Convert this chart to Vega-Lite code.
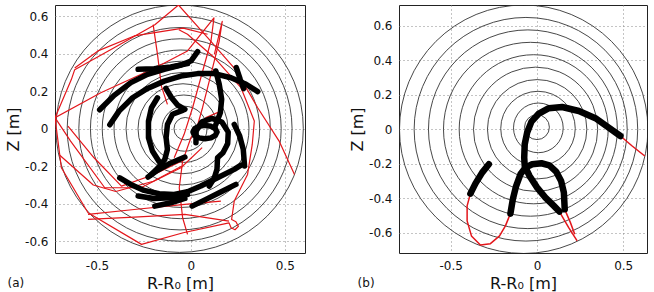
{
  "$schema": "https://vega.github.io/schema/vega-lite/v6.json",
  "padding": {"left": 5, "top": 4, "right": 0, "bottom": 0},
  "spacing": 43,
  "resolve": {"scale": {"x": "independent", "y": "independent", "size": "independent"}},
  "config": {
    "font": "DejaVu Sans",
    "view": {"stroke": "#222", "strokeWidth": 1},
    "axis": {
      "labelFont": "DejaVu Sans", "labelFontSize": 12, "labelColor": "#111",
      "titleFont": "DejaVu Sans", "titleFontSize": 16, "titleFontWeight": "normal", "titleColor": "#111",
      "grid": true, "gridDash": [1, 3], "gridColor": "#888", "gridWidth": 1,
      "ticks": false, "domain": false, "labelPadding": 7, "labelFlush": false
    },
    "axisX": {"titlePadding": 4},
    "axisY": {"titlePadding": 3},
    "title": {"font": "DejaVu Sans", "fontSize": 12, "fontWeight": "normal", "color": "#111"}
  },
  "datasets": {
    "a_circ": [
      {"cx": -0.060, "cy": 0, "r": 0.66}, {"cx": -0.060, "cy": 0, "r": 0.60},
      {"cx": -0.058, "cy": 0, "r": 0.54}, {"cx": -0.056, "cy": 0, "r": 0.48},
      {"cx": -0.053, "cy": 0, "r": 0.42}, {"cx": -0.050, "cy": 0, "r": 0.36},
      {"cx": -0.046, "cy": 0, "r": 0.30}, {"cx": -0.042, "cy": 0, "r": 0.24},
      {"cx": -0.038, "cy": 0, "r": 0.18}, {"cx": -0.034, "cy": 0, "r": 0.12},
      {"cx": -0.030, "cy": 0, "r": 0.06}
    ],
    "a_red": [
      {"g": "p1", "x": 0.552, "y": -0.244}, {"g": "p1", "x": 0.470, "y": -0.066}, {"g": "p1", "x": 0.356, "y": 0.112},
      {"g": "p1", "x": 0.238, "y": 0.315}, {"g": "p1", "x": 0.089, "y": 0.486}, {"g": "p1", "x": -0.066, "y": 0.660},
      {"g": "p1", "x": -0.192, "y": 0.555}, {"g": "p1", "x": -0.409, "y": 0.432}, {"g": "p1", "x": -0.619, "y": 0.315},
      {"g": "p1", "x": -0.637, "y": 0.262}, {"g": "p1", "x": -0.724, "y": 0.059}, {"g": "p1", "x": -0.690, "y": -0.208},
      {"g": "p1", "x": -0.548, "y": -0.448}, {"g": "p1", "x": -0.263, "y": -0.617}, {"g": "p1", "x": -0.041, "y": -0.555},
      {"g": "p1", "x": 0.203, "y": -0.502}, {"g": "p1", "x": 0.214, "y": -0.528}, {"g": "p1", "x": 0.235, "y": -0.539},
      {"g": "p1", "x": 0.253, "y": -0.521}, {"g": "p1", "x": 0.240, "y": -0.496}, {"g": "p1", "x": 0.217, "y": -0.484},
      {"g": "p1", "x": 0.231, "y": -0.386}, {"g": "p1", "x": 0.302, "y": -0.244}, {"g": "p1", "x": 0.327, "y": -0.084},
      {"g": "p1", "x": 0.338, "y": 0.041}, {"g": "p1", "x": 0.267, "y": 0.219}, {"g": "p1", "x": 0.125, "y": 0.379},
      {"g": "p1", "x": -0.018, "y": 0.504}, {"g": "p1", "x": -0.064, "y": 0.528},

      {"g": "p3", "x": -0.724, "y": 0.059}, {"g": "p3", "x": -0.480, "y": 0.192}, {"g": "p3", "x": -0.192, "y": 0.324},
      {"g": "p3", "x": -0.018, "y": 0.415}, {"g": "p3", "x": 0.123, "y": 0.591}, {"g": "p3", "x": 0.107, "y": 0.468},
      {"g": "p3", "x": 0.053, "y": 0.272}, {"g": "p3", "x": 0.009, "y": 0.112}, {"g": "p3", "x": -0.036, "y": -0.030},
      {"g": "p3", "x": -0.089, "y": -0.155},

      {"g": "p4", "x": -0.201, "y": 0.555}, {"g": "p4", "x": -0.178, "y": 0.397}, {"g": "p4", "x": -0.157, "y": 0.226},
      {"g": "p4", "x": -0.125, "y": 0.130},

      {"g": "p5", "x": 0.125, "y": 0.397}, {"g": "p5", "x": 0.167, "y": 0.573}, {"g": "p5", "x": 0.151, "y": 0.468},
      {"g": "p5", "x": 0.107, "y": 0.290}, {"g": "p5", "x": 0.062, "y": 0.112}, {"g": "p5", "x": 0.027, "y": -0.012},

      {"g": "p6", "x": -0.655, "y": 0.014}, {"g": "p6", "x": -0.516, "y": -0.155}, {"g": "p6", "x": -0.370, "y": -0.306},
      {"g": "p6", "x": -0.196, "y": -0.244}, {"g": "p6", "x": -0.032, "y": -0.164},

      {"g": "p7", "x": -0.548, "y": -0.457}, {"g": "p7", "x": -0.302, "y": -0.431}, {"g": "p7", "x": -0.032, "y": -0.404},
      {"g": "p7", "x": 0.160, "y": -0.386},

      {"g": "p8", "x": -0.548, "y": -0.484}, {"g": "p8", "x": -0.302, "y": -0.472}, {"g": "p8", "x": -0.032, "y": -0.457},
      {"g": "p8", "x": 0.203, "y": -0.493},

      {"g": "p9", "x": -0.724, "y": 0.059}, {"g": "p9", "x": -0.641, "y": -0.066}, {"g": "p9", "x": -0.459, "y": -0.315},
      {"g": "p9", "x": -0.267, "y": -0.315}, {"g": "p9", "x": -0.053, "y": -0.208}, {"g": "p9", "x": 0.060, "y": -0.101},

      {"g": "p10", "x": -0.619, "y": 0.324}, {"g": "p10", "x": -0.495, "y": 0.415}, {"g": "p10", "x": -0.302, "y": 0.495},
      {"g": "p10", "x": -0.041, "y": 0.537}, {"g": "p10", "x": 0.089, "y": 0.504},

      {"g": "p11", "x": 0.160, "y": 0.094}, {"g": "p11", "x": 0.080, "y": 0.059}, {"g": "p11", "x": 0.000, "y": -0.048},
      {"g": "p11", "x": -0.044, "y": -0.173}, {"g": "p11", "x": -0.062, "y": -0.315}, {"g": "p11", "x": -0.044, "y": -0.475},
      {"g": "p11", "x": -0.018, "y": -0.564},

      {"g": "p12", "x": -0.700, "y": -0.140}, {"g": "p12", "x": -0.520, "y": -0.300}, {"g": "p12", "x": -0.400, "y": -0.335},
      {"g": "p12", "x": -0.200, "y": -0.280}, {"g": "p12", "x": -0.050, "y": -0.200}
    ],
    "a_black": [
      {"g": "k1", "x": -0.486, "y": 0.101}, {"g": "k1", "x": -0.409, "y": 0.178}, {"g": "k1", "x": -0.320, "y": 0.246},
      {"g": "k1", "x": -0.231, "y": 0.290}, {"g": "k1", "x": -0.142, "y": 0.317}, {"g": "k1", "x": -0.053, "y": 0.340},
      {"g": "k1", "x": 0.000, "y": 0.361}, {"g": "k1", "x": 0.036, "y": 0.411},

      {"g": "k2", "x": -0.432, "y": 0.021}, {"g": "k2", "x": -0.383, "y": 0.094}, {"g": "k2", "x": -0.311, "y": 0.165},
      {"g": "k2", "x": -0.231, "y": 0.215}, {"g": "k2", "x": -0.142, "y": 0.254}, {"g": "k2", "x": -0.053, "y": 0.281},
      {"g": "k2", "x": 0.036, "y": 0.294}, {"g": "k2", "x": 0.125, "y": 0.294}, {"g": "k2", "x": 0.214, "y": 0.272},
      {"g": "k2", "x": 0.294, "y": 0.237}, {"g": "k2", "x": 0.356, "y": 0.198},

      {"g": "k3", "x": -0.281, "y": 0.317}, {"g": "k3", "x": -0.196, "y": 0.320}, {"g": "k3", "x": -0.107, "y": 0.329},
      {"g": "k3", "x": -0.018, "y": 0.347},

      {"g": "k4", "x": -0.178, "y": 0.165}, {"g": "k4", "x": -0.210, "y": 0.112}, {"g": "k4", "x": -0.226, "y": 0.041},
      {"g": "k4", "x": -0.226, "y": -0.048}, {"g": "k4", "x": -0.205, "y": -0.119}, {"g": "k4", "x": -0.169, "y": -0.176},
      {"g": "k4", "x": -0.142, "y": -0.199},

      {"g": "k5", "x": -0.133, "y": 0.215}, {"g": "k5", "x": -0.103, "y": 0.165}, {"g": "k5", "x": -0.071, "y": 0.126},
      {"g": "k5", "x": -0.032, "y": 0.103},

      {"g": "k6", "x": -0.044, "y": 0.098}, {"g": "k6", "x": -0.098, "y": 0.077}, {"g": "k6", "x": -0.125, "y": 0.023},
      {"g": "k6", "x": -0.132, "y": -0.048}, {"g": "k6", "x": -0.125, "y": -0.110}, {"g": "k6", "x": -0.139, "y": -0.164},
      {"g": "k6", "x": -0.174, "y": -0.208}, {"g": "k6", "x": -0.214, "y": -0.247},

      {"g": "k7", "x": 0.133, "y": 0.308}, {"g": "k7", "x": 0.151, "y": 0.237}, {"g": "k7", "x": 0.164, "y": 0.157},
      {"g": "k7", "x": 0.157, "y": 0.085}, {"g": "k7", "x": 0.133, "y": 0.023},

      {"g": "k8", "x": 0.242, "y": 0.326}, {"g": "k8", "x": 0.263, "y": 0.263}, {"g": "k8", "x": 0.281, "y": 0.215},

      {"g": "k9", "x": 0.139, "y": -0.018}, {"g": "k9", "x": 0.130, "y": 0.000}, {"g": "k9", "x": 0.107, "y": 0.013},
      {"g": "k9", "x": 0.075, "y": 0.018}, {"g": "k9", "x": 0.043, "y": 0.013}, {"g": "k9", "x": 0.020, "y": 0.000},
      {"g": "k9", "x": 0.011, "y": -0.018}, {"g": "k9", "x": 0.020, "y": -0.036}, {"g": "k9", "x": 0.043, "y": -0.049},
      {"g": "k9", "x": 0.075, "y": -0.054}, {"g": "k9", "x": 0.107, "y": -0.049}, {"g": "k9", "x": 0.130, "y": -0.036},
      {"g": "k9", "x": 0.139, "y": -0.018},

      {"g": "k10", "x": 0.027, "y": -0.075}, {"g": "k10", "x": 0.028, "y": -0.012}, {"g": "k10", "x": 0.059, "y": 0.037},
      {"g": "k10", "x": 0.112, "y": 0.055}, {"g": "k10", "x": 0.165, "y": 0.036}, {"g": "k10", "x": 0.199, "y": -0.018},
      {"g": "k10", "x": 0.196, "y": -0.080}, {"g": "k10", "x": 0.171, "y": -0.128}, {"g": "k10", "x": 0.142, "y": -0.155},
      {"g": "k10", "x": 0.139, "y": -0.217}, {"g": "k10", "x": 0.125, "y": -0.262}, {"g": "k10", "x": 0.098, "y": -0.306},

      {"g": "k12", "x": 0.231, "y": 0.023}, {"g": "k12", "x": 0.260, "y": -0.039}, {"g": "k12", "x": 0.279, "y": -0.110},
      {"g": "k12", "x": 0.286, "y": -0.199},

      {"g": "k13", "x": -0.379, "y": -0.262}, {"g": "k13", "x": -0.320, "y": -0.297}, {"g": "k13", "x": -0.249, "y": -0.329},
      {"g": "k13", "x": -0.169, "y": -0.347}, {"g": "k13", "x": -0.089, "y": -0.351}, {"g": "k13", "x": -0.018, "y": -0.336},
      {"g": "k13", "x": 0.053, "y": -0.306}, {"g": "k13", "x": 0.142, "y": -0.262}, {"g": "k13", "x": 0.231, "y": -0.217},
      {"g": "k13", "x": 0.267, "y": -0.194},

      {"g": "k14", "x": -0.281, "y": -0.359}, {"g": "k14", "x": -0.196, "y": -0.372}, {"g": "k14", "x": -0.107, "y": -0.368},
      {"g": "k14", "x": -0.018, "y": -0.351},

      {"g": "k15", "x": -0.192, "y": -0.413}, {"g": "k15", "x": -0.107, "y": -0.395}, {"g": "k15", "x": -0.032, "y": -0.372},

      {"g": "k16", "x": 0.007, "y": -0.413}, {"g": "k16", "x": 0.080, "y": -0.377}, {"g": "k16", "x": 0.151, "y": -0.342},
      {"g": "k16", "x": 0.240, "y": -0.297},

      {"g": "k17", "x": -0.228, "y": -0.258}, {"g": "k17", "x": -0.178, "y": -0.222}, {"g": "k17", "x": -0.116, "y": -0.187},
      {"g": "k17", "x": -0.032, "y": -0.151}
    ],
    "b_circ": [
      {"cx": -0.077, "cy": 0, "r": 0.720}, {"cx": -0.064, "cy": 0, "r": 0.648},
      {"cx": -0.053, "cy": 0, "r": 0.576}, {"cx": -0.038, "cy": 0, "r": 0.504},
      {"cx": -0.019, "cy": 0, "r": 0.432}, {"cx": -0.008, "cy": 0, "r": 0.360},
      {"cx": 0.001, "cy": 0, "r": 0.288}, {"cx": 0.006, "cy": 0.004, "r": 0.216},
      {"cx": 0.008, "cy": 0.008, "r": 0.144}, {"cx": 0.000, "cy": 0.012, "r": 0.072}
    ],
    "b_red": [
      {"g": "r1", "x": 0.625, "y": -0.155}, {"g": "r1", "x": 0.552, "y": -0.097}, {"g": "r1", "x": 0.484, "y": -0.039},
      {"g": "r2", "x": 0.130, "y": -0.477}, {"g": "r2", "x": 0.184, "y": -0.570}, {"g": "r2", "x": 0.233, "y": -0.647},
      {"g": "r3", "x": -0.386, "y": -0.373}, {"g": "r3", "x": -0.405, "y": -0.444}, {"g": "r3", "x": -0.405, "y": -0.531},
      {"g": "r3", "x": -0.380, "y": -0.618}, {"g": "r3", "x": -0.328, "y": -0.671}, {"g": "r3", "x": -0.270, "y": -0.663},
      {"g": "r3", "x": -0.217, "y": -0.618}, {"g": "r3", "x": -0.183, "y": -0.560}, {"g": "r3", "x": -0.154, "y": -0.489},
      {"g": "r4", "x": 0.161, "y": -0.464}, {"g": "r4", "x": 0.194, "y": -0.541}, {"g": "r4", "x": 0.219, "y": -0.609}
    ],
    "b_black": [
      {"g": "k1", "x": 0.484, "y": -0.039}, {"g": "k1", "x": 0.416, "y": 0.010}, {"g": "k1", "x": 0.339, "y": 0.064},
      {"g": "k1", "x": 0.243, "y": 0.106}, {"g": "k1", "x": 0.146, "y": 0.129}, {"g": "k1", "x": 0.069, "y": 0.122},
      {"g": "k1", "x": 0.011, "y": 0.091}, {"g": "k1", "x": -0.032, "y": 0.044}, {"g": "k1", "x": -0.057, "y": -0.019},
      {"g": "k1", "x": -0.071, "y": -0.087}, {"g": "k1", "x": -0.074, "y": -0.164}, {"g": "k1", "x": -0.071, "y": -0.213},
      {"g": "k1", "x": -0.043, "y": -0.271}, {"g": "k1", "x": 0.001, "y": -0.338}, {"g": "k1", "x": 0.049, "y": -0.396},
      {"g": "k1", "x": 0.098, "y": -0.444}, {"g": "k1", "x": 0.130, "y": -0.477},
      {"g": "k2", "x": -0.279, "y": -0.203}, {"g": "k2", "x": -0.318, "y": -0.251}, {"g": "k2", "x": -0.357, "y": -0.315},
      {"g": "k2", "x": -0.386, "y": -0.373},
      {"g": "k3", "x": -0.154, "y": -0.489}, {"g": "k3", "x": -0.140, "y": -0.406}, {"g": "k3", "x": -0.121, "y": -0.329},
      {"g": "k3", "x": -0.096, "y": -0.261}, {"g": "k3", "x": -0.067, "y": -0.222}, {"g": "k3", "x": -0.028, "y": -0.203},
      {"g": "k3", "x": 0.026, "y": -0.197}, {"g": "k3", "x": 0.072, "y": -0.209}, {"g": "k3", "x": 0.111, "y": -0.245},
      {"g": "k3", "x": 0.140, "y": -0.300}, {"g": "k3", "x": 0.156, "y": -0.367}, {"g": "k3", "x": 0.161, "y": -0.464}
    ]
  },
  "hconcat": [
    {
      "width": 250,
      "height": 248,
      "title": {"text": "(a)", "orient": "bottom", "anchor": "start", "frame": "bounds", "offset": -13, "dx": 2},
      "layer": [
        {
          "data": {"name": "a_circ"},
          "mark": {"type": "point", "filled": false, "clip": true, "stroke": "#333", "strokeWidth": 0.9, "opacity": 1},
          "encoding": {
            "x": {"field": "cx", "type": "quantitative",
                  "scale": {"domain": [-0.724, 0.608], "nice": false, "zero": false},
                  "axis": {"title": "R-R₀ [m]", "values": [-0.5, 0, 0.5],
                           "labelExpr": "datum.value == 0 ? '0' : (datum.value < 0 ? '-' : '') + format(abs(datum.value), '.1f')"}},
            "y": {"field": "cy", "type": "quantitative",
                  "scale": {"domain": [-0.663, 0.66], "nice": false, "zero": false},
                  "axis": {"title": "Z [m]", "values": [-0.6, -0.4, -0.2, 0, 0.2, 0.4, 0.6],
                           "labelExpr": "datum.value == 0 ? '0' : (datum.value < 0 ? '-' : '') + format(abs(datum.value), '.1f')"}},
            "size": {"field": "r", "type": "quantitative",
                     "scale": {"type": "pow", "exponent": 2, "domain": [0, 1], "range": [0, 140475]}, "legend": null}
          }
        },
        {
          "data": {"name": "a_red"},
          "mark": {"type": "line", "color": "#e3161b", "strokeWidth": 1.2, "clip": true, "strokeJoin": "round"},
          "encoding": {
            "x": {"field": "x", "type": "quantitative"},
            "y": {"field": "y", "type": "quantitative"},
            "detail": {"field": "g"},
            "order": {"value": null}
          }
        },
        {
          "data": {"name": "a_black"},
          "mark": {"type": "line", "color": "#000", "strokeWidth": 5.5, "strokeCap": "round", "strokeJoin": "round", "clip": true},
          "encoding": {
            "x": {"field": "x", "type": "quantitative"},
            "y": {"field": "y", "type": "quantitative"},
            "detail": {"field": "g"},
            "order": {"value": null}
          }
        }
      ]
    },
    {
      "width": 248,
      "height": 248,
      "title": {"text": "(b)", "orient": "bottom", "anchor": "start", "frame": "bounds", "offset": -13, "dx": 8},
      "layer": [
        {
          "data": {"name": "b_circ"},
          "mark": {"type": "point", "filled": false, "clip": true, "stroke": "#333", "strokeWidth": 0.9, "opacity": 1},
          "encoding": {
            "x": {"field": "cx", "type": "quantitative",
                  "scale": {"domain": [-0.8, 0.638], "nice": false, "zero": false},
                  "axis": {"title": "R-R₀ [m]", "values": [-0.5, 0, 0.5],
                           "labelExpr": "datum.value == 0 ? '0' : (datum.value < 0 ? '-' : '') + format(abs(datum.value), '.1f')"}},
            "y": {"field": "cy", "type": "quantitative",
                  "scale": {"domain": [-0.717, 0.72], "nice": false, "zero": false},
                  "axis": {"title": "Z [m]", "values": [-0.6, -0.4, -0.2, 0, 0.2, 0.4, 0.6],
                           "labelExpr": "datum.value == 0 ? '0' : (datum.value < 0 ? '-' : '') + format(abs(datum.value), '.1f')"}},
            "size": {"field": "r", "type": "quantitative",
                     "scale": {"type": "pow", "exponent": 2, "domain": [0, 1], "range": [0, 119025]}, "legend": null}
          }
        },
        {
          "data": {"name": "b_red"},
          "mark": {"type": "line", "color": "#e3161b", "strokeWidth": 1.5, "clip": true, "strokeJoin": "round"},
          "encoding": {
            "x": {"field": "x", "type": "quantitative"},
            "y": {"field": "y", "type": "quantitative"},
            "detail": {"field": "g"},
            "order": {"value": null}
          }
        },
        {
          "data": {"name": "b_black"},
          "mark": {"type": "line", "color": "#000", "strokeWidth": 6.5, "strokeCap": "round", "strokeJoin": "round", "clip": true},
          "encoding": {
            "x": {"field": "x", "type": "quantitative"},
            "y": {"field": "y", "type": "quantitative"},
            "detail": {"field": "g"},
            "order": {"value": null}
          }
        }
      ]
    }
  ]
}
